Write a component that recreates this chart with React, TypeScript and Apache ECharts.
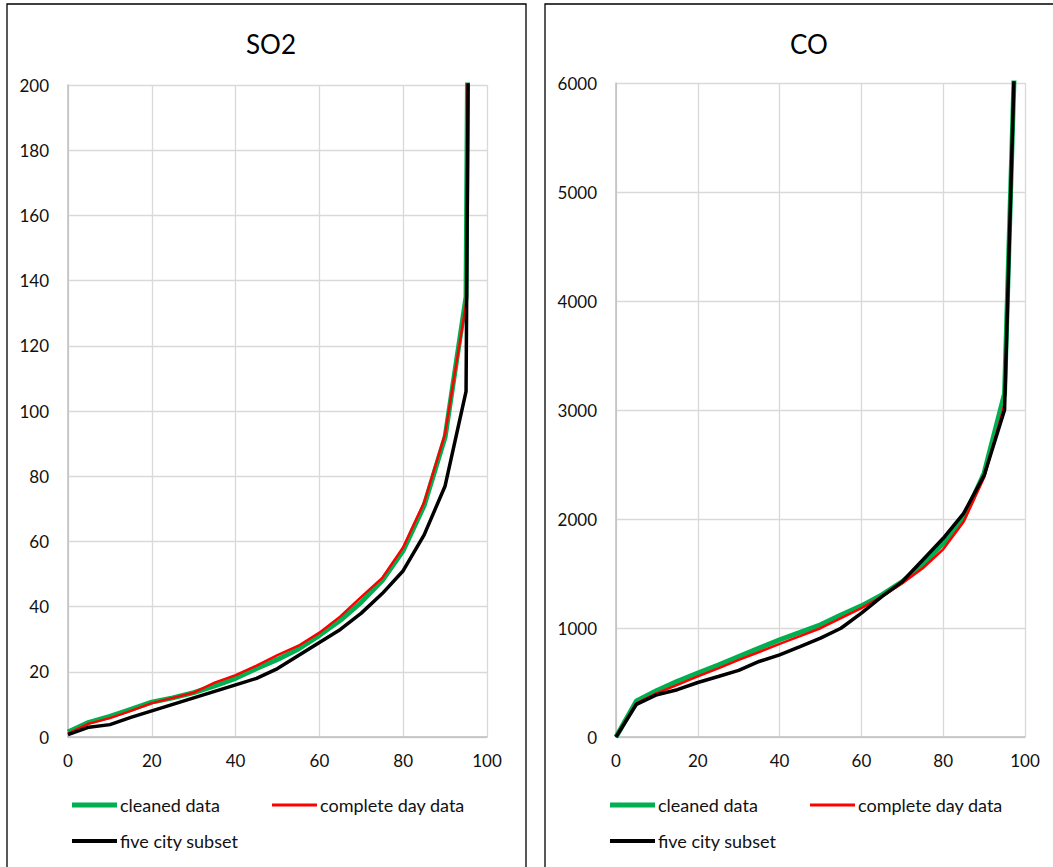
import React, { useEffect, useRef } from "react";
import * as echarts from "echarts";

const percentiles = [0, 5, 10, 15, 20, 25, 30, 35, 40, 45, 50, 55, 60, 65, 70, 75, 80, 85, 90, 95, 100];

const so2Cleaned = [1.5, 4.5, 6.3, 8.5, 10.7, 12, 13.6, 15.7, 18, 21, 23.8, 27, 31.2, 35.8, 41.4, 48, 57.2, 71, 92, 135, 1100];
const so2Complete = [1, 4.1, 5.8, 8, 10.4, 12, 13.6, 16.7, 19, 21.9, 25.1, 28, 32, 37, 43, 48.8, 58.2, 72, 93, 133, 1100];
const so2Five = [0.7, 3, 3.8, 6, 8, 10, 12, 14, 16, 18, 21, 25, 29, 33, 38, 44, 51, 62, 77, 106, 1080];

const coCleaned = [0, 330, 427, 510, 586, 660, 739, 815, 892, 960, 1029, 1120, 1203, 1304, 1426, 1579, 1777, 2006, 2420, 3150, 9400];
const coComplete = [0, 310, 403, 479, 556, 630, 708, 780, 855, 925, 998, 1090, 1182, 1288, 1411, 1548, 1722, 1975, 2380, 3050, 9500];
const coFive = [0, 300, 388, 434, 500, 555, 611, 693, 754, 830, 907, 998, 1136, 1288, 1426, 1624, 1823, 2052, 2400, 3000, 9600];

const seriesNames = ["cleaned data", "complete day data", "five city subset"];
const seriesColors = ["#00B050", "#FF0000", "#000000"];
const seriesWidths = [5, 2.5, 3.5];

const xTicks = { min: 0, max: 100, interval: 20 };
const so2Ticks = { min: 0, max: 200, interval: 20 };
const coTicks = { min: 0, max: 6000, interval: 1000 };

const FONT = "Lato, 'Open Sans', sans-serif";

function pairs(ys: number[]) {
  return percentiles.map((x, i) => [x, ys[i]]);
}

export default function App() {
  const ref = useRef<HTMLDivElement>(null);

  useEffect(() => {
    if (!ref.current) return;
    const chart = echarts.init(ref.current, null, { renderer: "svg" });

    const axisLabel = {
      color: "#111",
      fontSize: 17,
      fontFamily: FONT,
      formatter: (v: number) => String(v),
    };
    const splitLine = { show: true, lineStyle: { color: "#d9d9d9", width: 1.3 } };
    const axisLine = { show: true, lineStyle: { color: "#bfbfbf", width: 1.5 } };

    const makeX = (gridIndex: number) => ({
      type: "value",
      gridIndex,
      ...xTicks,
      axisLabel: { ...axisLabel, margin: 15 },
      axisTick: { show: false },
      axisLine,
      splitLine,
    });
    const makeY = (gridIndex: number, t: any) => ({
      type: "value",
      gridIndex,
      ...t,
      axisLabel: { ...axisLabel, margin: 19 },
      axisTick: { show: false },
      axisLine,
      splitLine,
    });

    const so2 = [so2Cleaned, so2Complete, so2Five];
    const co = [coCleaned, coComplete, coFive];
    const series: any[] = [];
    [so2, co].forEach((group, gi) => {
      group.forEach((ys, si) => {
        series.push({
          type: "line",
          name: seriesNames[si],
          xAxisIndex: gi,
          yAxisIndex: gi,
          data: pairs(ys),
          symbol: "none",
          clip: true,
          color: seriesColors[si],
          lineStyle: { color: seriesColors[si], width: seriesWidths[si] },
          z: 2 + si,
        });
      });
    });

    const iconHeights = [5, 3, 4];
    const legendPos = [
      [72, 796, 0],
      [272, 796, 1],
      [72, 832, 2],
      [610, 796, 0],
      [810, 796, 1],
      [610, 832, 2],
    ];
    const legend = legendPos.map(([left, top, si]) => ({
      left,
      top,
      padding: 0,
      icon: "rect",
      itemWidth: 45,
      itemHeight: iconHeights[si],
      itemGap: 0,
      selectedMode: false,
      data: [seriesNames[si]],
      textStyle: { color: "#111", fontSize: 18, fontFamily: FONT, padding: [0, 0, 0, -2] },
    }));

    const titleStyle = { fontSize: 26, fontWeight: "normal", color: "#000", fontFamily: FONT };

    chart.setOption({
      animation: false,
      backgroundColor: "#ffffff",
      title: [
        { text: "SO2", left: 266, top: 26, textAlign: "center", textStyle: titleStyle },
        { text: "CO", left: 804, top: 26, textAlign: "center", textStyle: titleStyle },
      ],
      grid: [
        { left: 68, top: 85, width: 419, height: 652, containLabel: false },
        { left: 616, top: 83, width: 409, height: 654, containLabel: false },
      ],
      xAxis: [makeX(0), makeX(1)],
      yAxis: [makeY(0, so2Ticks), makeY(1, coTicks)],
      legend,
      series,
      graphic: [
        {
          type: "rect",
          shape: { x: 7, y: 4, width: 519, height: 880 },
          style: { fill: "none", stroke: "#000", lineWidth: 1.3 },
          z: -1,
        },
        {
          type: "rect",
          shape: { x: 545, y: 4, width: 530, height: 880 },
          style: { fill: "none", stroke: "#000", lineWidth: 1.3 },
          z: -1,
        },
      ],
    });

    return () => chart.dispose();
  }, []);

  return (
    <div
      ref={ref}
      style={{ position: "absolute", left: 0, top: 0, width: 1053, height: 867, background: "#fff" }}
    />
  );
}
